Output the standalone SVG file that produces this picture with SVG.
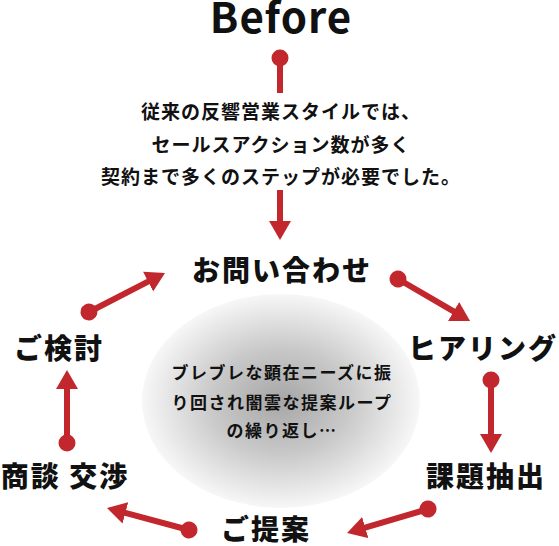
<svg xmlns="http://www.w3.org/2000/svg" width="559" height="546" viewBox="0 0 559 546">
<defs>
<style>
.t{font-family:"Noto Sans CJK JP","Noto Sans",sans-serif;font-weight:700;fill:#111;text-anchor:middle}
.node{font-size:28px;letter-spacing:2px;font-weight:900}
.body{font-size:19px;letter-spacing:1px}
.mid{font-size:17px;letter-spacing:1.5px}
.c{stroke:#c1272d;stroke-width:6;fill:none}
</style>
<radialGradient id="g" cx="0.5" cy="0.5" r="0.5">
<stop offset="0" stop-color="#a6a6a6"/>
<stop offset="0.5" stop-color="#c9c9c9"/>
<stop offset="1" stop-color="#f7f7f7"/>
</radialGradient>
<marker id="dot" markerUnits="userSpaceOnUse" markerWidth="20" markerHeight="20" refX="10" refY="10" orient="auto">
<circle cx="10" cy="10" r="8.5" fill="#c1272d"/>
</marker>
<marker id="arr" markerUnits="userSpaceOnUse" markerWidth="24" markerHeight="26" refX="1" refY="12" orient="auto">
<path d="M0,1 L19,12 L0,23 Z" fill="#c1272d"/>
</marker>
</defs>
<rect width="559" height="546" fill="#fff"/>
<ellipse cx="281" cy="401" rx="139" ry="107" fill="url(#g)"/>

<g id="before"><text class="t" x="281" y="33" font-size="42" font-weight="900" letter-spacing="1">Before</text></g>
<g id="desc">
<text class="t body" x="281" y="119">従来の反響営業スタイルでは、</text>
<text class="t body" x="281" y="152">セールスアクション数が多く</text>
<text class="t body" x="281" y="184">契約まで多くのステップが必要でした。</text>
</g>
<g id="center">
<text class="t mid" x="282" y="379">ブレブレな顕在ニーズに振</text>
<text class="t mid" x="282" y="409">り回され闇雲な提案ループ</text>
<text class="t mid" x="282" y="437">の繰り返し…</text>
</g>
<g id="n1"><text class="t node" x="282" y="281">お問い合わせ</text></g>
<g id="n2"><text class="t node" x="483" y="359">ヒアリング</text></g>
<g id="n3"><text class="t node" x="486" y="487">課題抽出</text></g>
<g id="n4"><text class="t node" x="266" y="540">ご提案</text></g>
<g id="n5"><text class="t node" x="65" y="487">商談 交渉</text></g>
<g id="n6"><text class="t node" x="59" y="359">ご検討</text></g>

<g id="connectors">
<line class="c" x1="280" y1="58" x2="280" y2="93" marker-start="url(#dot)"/>
<line class="c" x1="280" y1="190" x2="280" y2="222" marker-end="url(#arr)"/>
<line class="c" x1="89" y1="312" x2="149" y2="281.2" marker-start="url(#dot)" marker-end="url(#arr)"/>
<line class="c" x1="398" y1="279" x2="454.5" y2="311.9" marker-start="url(#dot)" marker-end="url(#arr)"/>
<line class="c" x1="491" y1="380" x2="491" y2="435" marker-start="url(#dot)" marker-end="url(#arr)"/>
<line class="c" x1="428" y1="509" x2="364.3" y2="527.9" marker-start="url(#dot)" marker-end="url(#arr)"/>
<line class="c" x1="189" y1="530" x2="124.4" y2="512.7" marker-start="url(#dot)" marker-end="url(#arr)"/>
<line class="c" x1="67" y1="443" x2="67" y2="388" marker-start="url(#dot)" marker-end="url(#arr)"/>
</g>
</svg>
